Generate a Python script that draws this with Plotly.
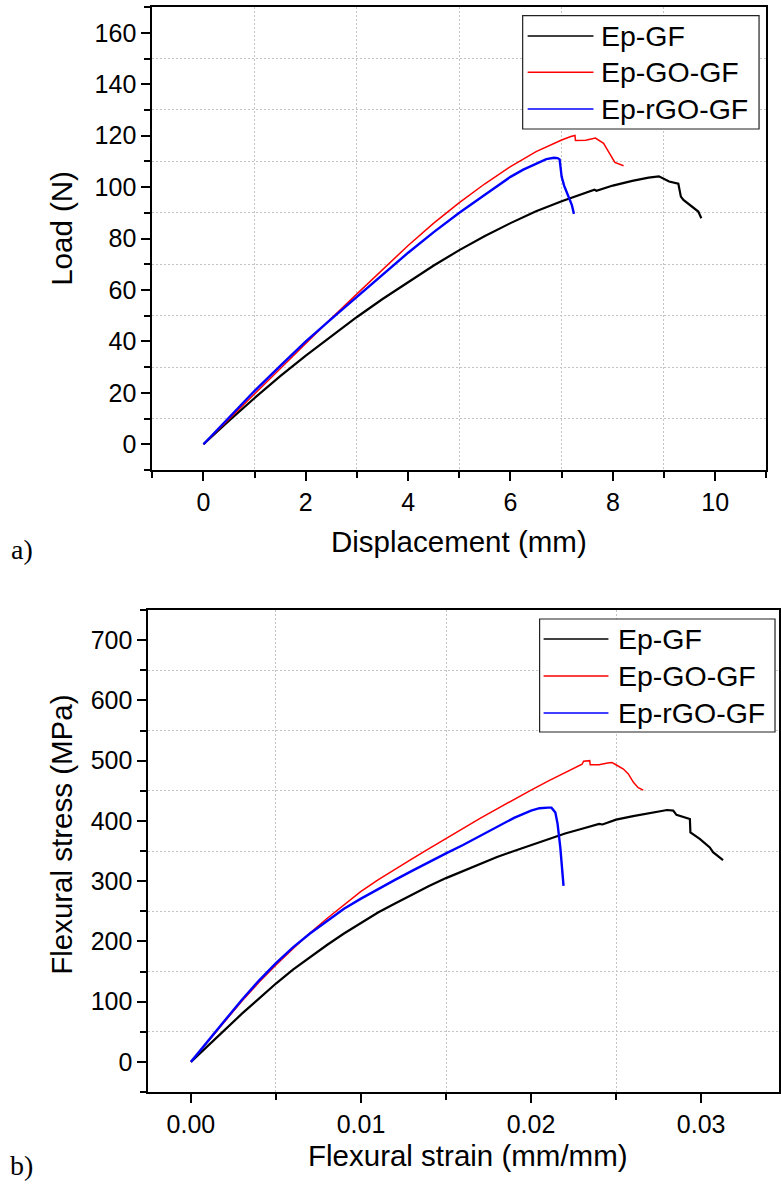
import plotly.graph_objects as go

# ---- (a) Load vs displacement ----
gf_disp = [0, 0.5, 1, 1.5, 2, 2.5, 3, 3.5, 4, 4.5, 5, 5.5, 6, 6.5, 7, 7.3, 7.64, 7.68,
           8.0, 8.38, 8.7, 8.9, 9.02, 9.1, 9.28, 9.33, 9.38, 9.54, 9.67, 9.73]
gf_load = [0, 9.2, 18, 26.5, 34.5, 42, 49.5, 56.5, 63, 69.5, 75.5, 81, 86, 90.6, 94.5,
           96.7, 99, 98.6, 100.6, 102.4, 103.7, 104.2, 103, 102.2, 101.3, 96.3, 95, 92.4,
           90.5, 87.9]

go_disp = [0, 0.5, 1, 1.5, 2, 2.5, 3, 3.5, 4, 4.5, 5, 5.5, 6, 6.5, 6.75, 7, 7.18, 7.26,
           7.27, 7.47, 7.66, 7.82, 7.88, 7.97, 8.04, 8.21]
go_load = [0, 9.8, 19.8, 29.5, 39.3, 49, 58.5, 68, 77.3, 86, 94, 101.3, 108, 113.8,
           116.2, 118.3, 119.7, 120.1, 118.1, 118.2, 119.1, 117, 115, 111.8, 109.6, 108.3]

rgo_disp = [0, 0.5, 1, 1.5, 2, 2.5, 3, 3.5, 4, 4.5, 5, 5.5, 6, 6.25, 6.5, 6.7, 6.85, 6.92,
            6.96, 7.0, 7.05, 7.12, 7.2, 7.24]
rgo_load = [0, 10.5, 20.8, 30.5, 40, 48.8, 57.3, 66, 74.5, 82.5, 90, 97, 104, 106.8,
            109.2, 110.9, 111.4, 111.3, 110.8, 104, 100.5, 97, 93, 89.6]

# ---- (b) Flexural stress vs strain ----
gf_strain = [0, 0.001, 0.002, 0.003, 0.004, 0.005, 0.006, 0.007, 0.008, 0.009, 0.010,
             0.011, 0.012, 0.013, 0.014, 0.015, 0.016, 0.017, 0.018, 0.019, 0.020, 0.021,
             0.022, 0.023, 0.0240, 0.0242, 0.025, 0.026, 0.027, 0.028, 0.02836, 0.02855,
             0.02934, 0.02937, 0.02992, 0.03051, 0.0307, 0.03129]
gf_stress = [0, 27, 54, 80, 105, 130, 153, 174, 194, 213, 231, 248, 263, 278, 292, 305,
             317, 329, 340, 350, 360, 370, 379, 387, 395, 394, 402, 408, 413, 418, 417,
             410, 403, 381, 370, 356, 348, 335]

go_strain = [0, 0.001, 0.002, 0.003, 0.004, 0.005, 0.006, 0.007, 0.008, 0.009, 0.010,
             0.011, 0.012, 0.013, 0.014, 0.015, 0.016, 0.017, 0.018, 0.019, 0.020, 0.021,
             0.022, 0.023, 0.02309, 0.02345, 0.02348, 0.024, 0.0245, 0.02475, 0.02494,
             0.02543, 0.02572, 0.02602, 0.0263, 0.0266]
go_stress = [0, 34, 68, 101, 132, 161, 188, 214, 238, 261, 283, 302, 320, 337, 354, 371,
             388, 404, 420, 436, 451, 466, 480, 494, 499, 500, 493, 493, 496, 497, 494,
             486, 478, 464, 455, 451]

rgo_strain = [0, 0.001, 0.002, 0.003, 0.004, 0.005, 0.006, 0.007, 0.008, 0.009, 0.010,
              0.011, 0.012, 0.013, 0.014, 0.015, 0.016, 0.017, 0.018, 0.019, 0.020,
              0.0205, 0.021, 0.0212, 0.02143, 0.02156, 0.02172, 0.02191]
rgo_stress = [0, 35, 69, 103, 135, 164, 190, 213, 234, 254, 271, 287, 302, 317, 332, 346,
              360, 375, 390, 405, 417, 421, 422, 422, 414, 395, 356, 292]

series_names = ["Ep-GF", "Ep-GO-GF", "Ep-rGO-GF"]
series_colors = ["#000000", "#ff0000", "#0000ff"]
series_widths = [2.2, 1.5, 2.4]

W, H = 781, 1187
FONT = "Liberation Sans, Arial, sans-serif"


def px(x):
    return x / W


def py(y):
    return 1 - y / H


fig = go.Figure()

panel_a = [(gf_disp, gf_load), (go_disp, go_load), (rgo_disp, rgo_load)]
panel_b = [(gf_strain, gf_stress), (go_strain, go_stress), (rgo_strain, rgo_stress)]

for (xs, ys), name, col, lw in zip(panel_a, series_names, series_colors, series_widths):
    fig.add_trace(go.Scatter(x=xs, y=ys, mode="lines", name=name, showlegend=False,
                             line=dict(color=col, width=lw), xaxis="x", yaxis="y"))
for (xs, ys), name, col, lw in zip(panel_b, series_names, series_colors, series_widths):
    fig.add_trace(go.Scatter(x=xs, y=ys, mode="lines", name=name, showlegend=False,
                             line=dict(color=col, width=lw), xaxis="x2", yaxis="y2"))


def axis(domain, rng, dtick, minor_dtick, anchor, fmt=None):
    d = dict(
        domain=domain, range=rng, anchor=anchor, dtick=dtick, tick0=0,
        showline=True, linecolor="black", linewidth=2, mirror=True,
        ticks="outside", ticklen=9, tickwidth=1.5, tickcolor="black",
        showgrid=False, zeroline=False,
        tickfont=dict(family=FONT, size=25, color="black"),
        minor=dict(dtick=minor_dtick, tick0=0, ticks="outside", ticklen=6,
                   tickwidth=1.5, tickcolor="black", showgrid=True,
                   gridcolor="#c4c4c4", gridwidth=1, griddash="2px,2px"),
    )
    if fmt:
        d["tickformat"] = fmt
    return d


fig.update_layout(
    width=W, height=H, margin=dict(l=0, r=0, t=0, b=0),
    paper_bgcolor="white", plot_bgcolor="white", showlegend=False,
    xaxis=axis([px(152.7), px(768.3)], [-1, 11], 2, 1, "y"),
    yaxis=axis([py(470), py(7.1)], [-10, 170], 20, 10, "x"),
    xaxis2=axis([px(148.8), 1.0], [-0.0025, 0.03458], 0.01, 0.005, "y2", ".2f"),
    yaxis2=axis([py(1092), py(610)], [-50, 750], 100, 50, "x2"),
)

shapes = []
annotations = []


def legend(box, line_x, text_x, rows):
    x0, x1, y0, y1 = box
    shapes.append(dict(type="rect", xref="paper", yref="paper",
                       x0=px(x0), x1=px(x1), y0=py(y1), y1=py(y0),
                       line=dict(color="#222222", width=1.2), fillcolor="white",
                       layer="above"))
    for yy, name, col in zip(rows, series_names, series_colors):
        shapes.append(dict(type="line", xref="paper", yref="paper",
                           x0=px(line_x[0]), x1=px(line_x[1]), y0=py(yy), y1=py(yy),
                           line=dict(color=col, width=1.6), layer="above"))
        annotations.append(dict(text=name, xref="paper", yref="paper", x=px(text_x),
                                y=py(yy), xanchor="left", yanchor="middle",
                                showarrow=False,
                                font=dict(family=FONT, size=28.5, color="black")))


legend((524, 761, 15.7, 129), (529, 595), 601, [36, 72.3, 109])
legend((541, 777, 619, 732), (545, 610), 618, [639, 676, 713])


def label(text, x, y, size=29.5, angle=0, family=FONT):
    annotations.append(dict(text=text, xref="paper", yref="paper", x=px(x), y=py(y),
                            xanchor="center", yanchor="middle", showarrow=False,
                            textangle=angle,
                            font=dict(family=family, size=size, color="black")))


label("Load (N)", 61, 228, angle=-90)
label("Displacement (mm)", 460, 541)
label("Flexural stress (MPa)", 61, 835, angle=-90)
label("Flexural strain (mm/mm)", 469, 1155)
label("a)", 22, 549, size=28, family="Liberation Serif, Times New Roman, serif")
label("b)", 22, 1165, size=28, family="Liberation Serif, Times New Roman, serif")

fig.update_layout(shapes=shapes, annotations=annotations)

fig.write_html("out.html")
